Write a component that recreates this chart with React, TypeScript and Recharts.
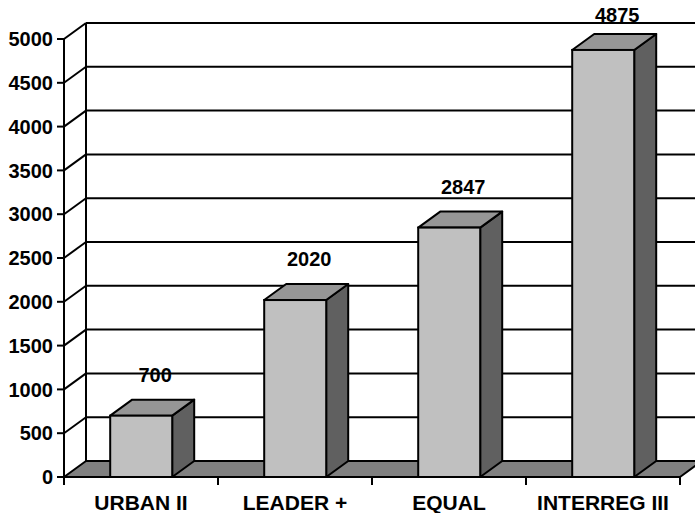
import React from 'react';
import { BarChart, Bar, XAxis, YAxis, CartesianGrid } from 'recharts';

const categories = ['URBAN II', 'LEADER +', 'EQUAL', 'INTERREG III'];
const budgets = [700, 2020, 2847, 4875];
const yTicks = [0, 500, 1000, 1500, 2000, 2500, 3000, 3500, 4000, 4500, 5000];

const data = categories.map((name, i) => ({ name, budget: budgets[i] }));

const FONT = '"Liberation Sans", Arial, Helvetica, sans-serif';
const DX = 22;
const DY = 16;
const FRONT = '#C0C0C0';
const TOP = '#969696';
const SIDE = '#606060';
const FLOOR = '#808080';

const Bar3D = (props: any) => {
  const { x, y, width, height, payload } = props;
  const x0 = x;
  const x1 = x + width;
  const yT = y;
  const yB = y + height;
  const cx = x + width / 2;
  const labelY = Math.max(yT - DY - 18, 22);
  return (
    <g>
      <polygon
        points={`${x1},${yT} ${x1 + DX},${yT - DY} ${x1 + DX},${yB - DY} ${x1},${yB}`}
        fill={SIDE}
        stroke="#000"
        strokeWidth={2}
        strokeLinejoin="round"
      />
      <polygon
        points={`${x0},${yT} ${x0 + DX},${yT - DY} ${x1 + DX},${yT - DY} ${x1},${yT}`}
        fill={TOP}
        stroke="#000"
        strokeWidth={2}
        strokeLinejoin="round"
      />
      <rect x={x0} y={yT} width={width} height={height} fill={FRONT} stroke="#000" strokeWidth={2} />
      <text
        x={cx + 14}
        y={labelY}
        textAnchor="middle"
        fontFamily={FONT}
        fontWeight="bold"
        fontSize={20}
        fill="#000"
      >
        {payload.budget}
      </text>
    </g>
  );
};

const GridLine = (props: any) => {
  const { x1, x2, y1, index } = props;
  const pts: number[] = Array.isArray(props.horizontalPoints) ? props.horizontalPoints : [];
  const bottom =
    typeof props.y === 'number' && typeof props.height === 'number'
      ? props.y + props.height
      : pts.length
      ? Math.max(...pts)
      : y1;
  const top =
    typeof props.y === 'number' ? props.y : pts.length ? Math.min(...pts) : y1;
  const isFloor = Math.abs(y1 - bottom) < 0.5;
  const n = categories.length;
  const step = (x2 - x1) / n;
  return (
    <g key={props.key ?? `g-${index}`}>
      {isFloor ? (
        <g>
          <line x1={x1 + DX} y1={top - DY} x2={x1 + DX} y2={bottom - DY} stroke="#000" strokeWidth={2} />
          <polygon
            points={`${x1},${bottom} ${x1 + DX},${bottom - DY} ${x2 + DX},${bottom - DY} ${x2},${bottom}`}
            fill={FLOOR}
            stroke="#000"
            strokeWidth={2}
            strokeLinejoin="round"
          />
          {Array.from({ length: n + 1 }).map((_, k) => (
            <line
              key={`bt-${k}`}
              x1={x1 + k * step}
              y1={bottom}
              x2={x1 + k * step}
              y2={bottom + 8}
              stroke="#000"
              strokeWidth={2}
            />
          ))}
        </g>
      ) : (
        <g>
          <line x1={x1 + DX} y1={y1 - DY} x2={x2 + DX} y2={y1 - DY} stroke="#000" strokeWidth={2} />
          <line x1={x1} y1={y1} x2={x1 + DX} y2={y1 - DY} stroke="#000" strokeWidth={2} />
        </g>
      )}
    </g>
  );
};

export default function App() {
  return (
    <div style={{ position: 'absolute', left: 0, top: 0, background: '#fff' }}>
      <BarChart
        width={695}
        height={513}
        data={data}
        margin={{ top: 39, right: 15, bottom: 0, left: 0 }}
        barCategoryGap="30%"
      >
        <CartesianGrid vertical={false} horizontal={GridLine as any} />
        <Bar dataKey="budget" isAnimationActive={false} shape={Bar3D} />
        <XAxis
          dataKey="name"
          height={36}
          axisLine={{ stroke: '#000', strokeWidth: 2 }}
          tickLine={false}
          tickSize={6}
          tickMargin={12}
          interval={0}
          tick={{ fill: '#000', fontSize: 21, fontWeight: 'bold', fontFamily: FONT }}
        />
        <YAxis
          width={64}
          domain={[0, 5000]}
          ticks={yTicks}
          interval={0}
          axisLine={{ stroke: '#000', strokeWidth: 2 }}
          tickLine={{ stroke: '#000', strokeWidth: 2 }}
          tickSize={7}
          tickMargin={4}
          tick={{ fill: '#000', fontSize: 20, fontWeight: 'bold', fontFamily: FONT }}
        />
      </BarChart>
    </div>
  );
}
